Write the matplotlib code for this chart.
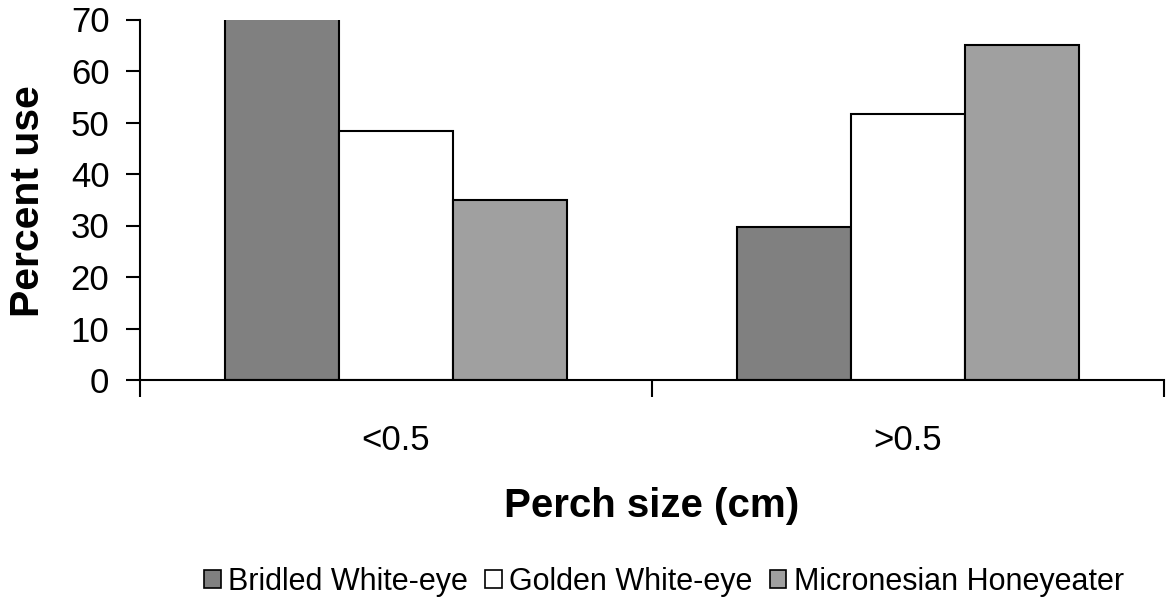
import matplotlib
matplotlib.use("Agg")
import matplotlib.pyplot as plt
from matplotlib.patches import Rectangle
import numpy as np

categories = ["<0.5", ">0.5"]
series_names = ["Bridled White-eye", "Golden White-eye", "Micronesian Honeyeater"]
bridled = [70.3, 29.7]
golden = [48.3, 51.7]
honeyeater = [35.0, 65.0]
colors = ["#808080", "#FFFFFF", "#A0A0A0"]
yticks = [0, 10, 20, 30, 40, 50, 60, 70]

plt.rcParams['font.family'] = ['Liberation Sans', 'DejaVu Sans']

fig = plt.figure(figsize=(11.66, 6.04), dpi=100)
ax = fig.add_axes([140/1166, 1-380/604, 1024/1166, (380-19.5)/604])

x = np.arange(len(categories))
w = 1/4.5
for i, (vals, c) in enumerate(zip([bridled, golden, honeyeater], colors)):
    ax.bar(x + (i-1)*w, vals, width=w, color=c, edgecolor='black', linewidth=1.5)

ax.set_xlim(-0.5, 1.5)
ax.set_ylim(0, 70)
ax.set_yticks(yticks)
ax.tick_params(axis='y', labelsize=25, length=10, width=1.5, pad=12, direction='out')
ax.set_xticks([-0.5, 0.5, 1.5])
ax.set_xticklabels(["", "", ""])
ax.tick_params(axis='x', which='major', length=12, width=1.5, direction='out')
ax.set_xticks(x, minor=True)
ax.set_xticklabels(categories, minor=True)
ax.tick_params(axis='x', which='minor', length=0, labelsize=25, pad=32)

for s in ['top', 'right']:
    ax.spines[s].set_visible(False)
for s in ['left', 'bottom']:
    ax.spines[s].set_linewidth(1.5)

fig.text(28/1166, 1-201/604, "Percent use", rotation=90, fontsize=29.5, fontweight='bold',
         ha='center', va='center')
fig.text(652/1166, 1-517/604, "Perch size (cm)", fontsize=29, fontweight='bold',
         ha='center', va='baseline')

handles = [Rectangle((0, 0), 1, 1, facecolor=c, edgecolor='black', linewidth=1.2) for c in colors]
fig.legend(handles, series_names, loc='center', bbox_to_anchor=(664/1166, 1-582/604),
           ncol=3, frameon=False, fontsize=22, handlelength=0.55, handleheight=0.55,
           handletextpad=0.25, columnspacing=0.55, borderpad=0)

fig.savefig("out.png", dpi=100)
